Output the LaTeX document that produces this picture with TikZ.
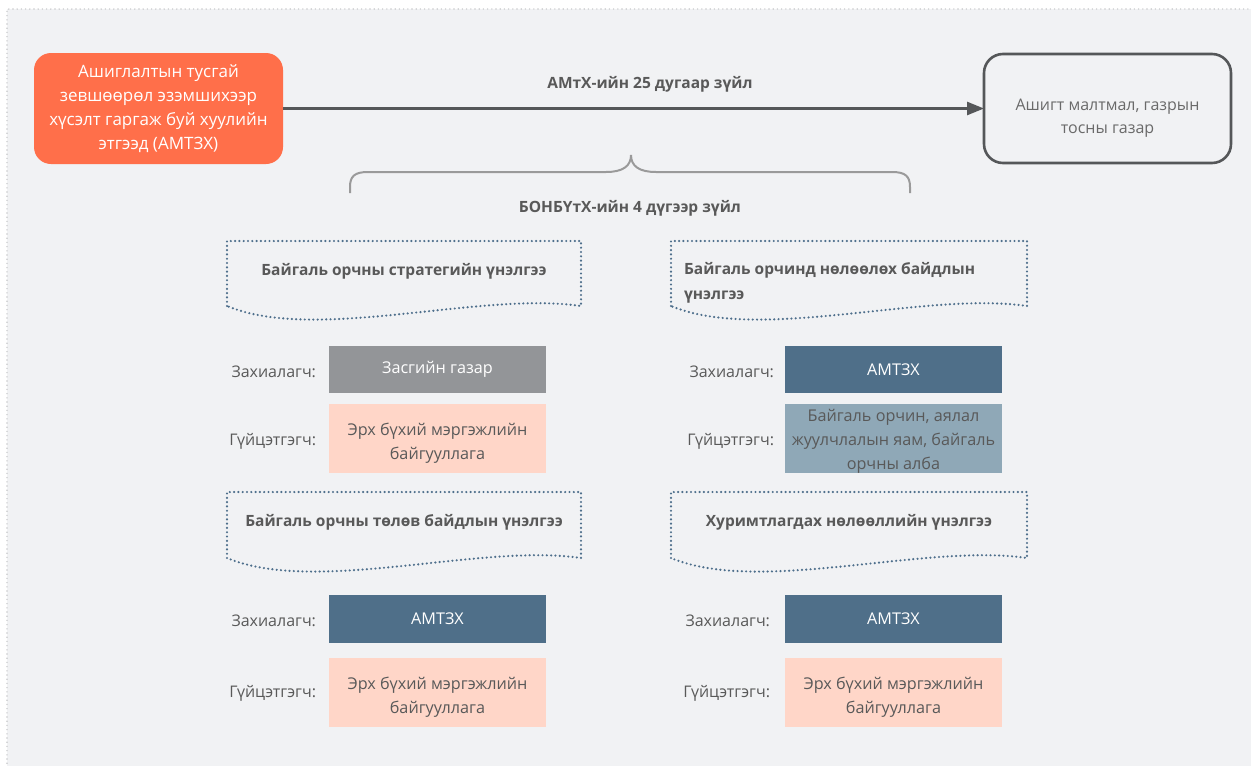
\documentclass[tikz,border=0pt]{standalone}
\usepackage{fontspec}
\setmainfont{Open Sans}
\usetikzlibrary{arrows.meta}
\definecolor{bgc}{HTML}{F1F2F4}
\definecolor{framec}{HTML}{C9CACC}
\definecolor{orangec}{HTML}{FF6F4A}
\definecolor{darkc}{HTML}{555759}
\definecolor{txtc}{HTML}{595959}
\definecolor{bracec}{HTML}{9A9A9A}
\definecolor{dotc}{HTML}{4E6F8C}
\definecolor{grayboxc}{HTML}{939598}
\definecolor{peachc}{HTML}{FFD6C8}
\definecolor{bluec}{HTML}{4F6F89}
\definecolor{lbluec}{HTML}{8FA8B7}
\begin{document}
\begin{tikzpicture}[x=1pt,y=-1pt,
  every node/.style={inner sep=0pt,outer sep=0pt},
  lbl/.style={font=\fontsize{16}{23}\selectfont,text=txtc,anchor=east},
  fbox/.style={minimum width=217pt},
  ftxt/.style={align=center,font=\fontsize{16.2}{24}\selectfont},
  ttl/.style={font=\bfseries\fontsize{15.5}{25}\selectfont,text=txtc},
  dotline/.style={draw=dotc,line width=2.4pt,line cap=round,dash pattern=on 0pt off 4.3pt},
  arr/.style={draw=darkc,line width=2.6pt,-{Triangle[length=17pt,width=13pt]}}
]
\useasboundingbox (0,0) rectangle (1251,766);
\fill[white] (0,0) rectangle (1251,766);
\fill[bgc] (7,9) rectangle (1251,766);
\draw[framec,line width=1.6pt,line cap=round,dash pattern=on 0pt off 4.2pt] (7,780) -- (7,9) -- (1265,9);

% top boxes
\node[fill=orangec,rounded corners=17pt,minimum width=249pt,minimum height=111pt,
  align=center,text=white,font=\fontsize{17}{24}\selectfont] (src) at (158.5,108.5)
  {Ашиглалтын тусгай\\зевшөөрөл эзэмшихээр\\хүсэлт гаргаж буй хуулийн\\этгээд (АМТЗХ)};
\node[draw=darkc,line width=2.6pt,fill=bgc,rounded corners=19pt,minimum width=247pt,minimum height=109pt] (dst) at (1107.5,108.5) {};
\node[align=center,text=txtc!90,font=\fontsize{16}{23}\selectfont] (dsttxt) at (1107.5,118)
  {Ашигт малтмал, газрын\\тосны газар};
\draw[arr] (src) -- (dst);
\node[font=\bfseries\fontsize{15.5}{18}\selectfont,text=txtc] (law25) at (650,84) {АМтХ-ийн 25 дугаар зүйл};

% brace
\draw[bracec,line width=2pt] (350,193) -- (350,187) .. controls (350,176) and (355,172) .. (368,172)
  -- (606,172) .. controls (623,172) and (631,166) .. (631,155)
  .. controls (631,166) and (639,172) .. (656,172) -- (892,172)
  .. controls (905,172) and (910,176) .. (910,187) -- (910,193);
\node[font=\bfseries\fontsize{15.5}{18}\selectfont,text=txtc] (law4) at (630,208) {БОНБҮтХ-ийн 4 дүгээр зүйл};

% document shapes
\draw[dotline] (227,306) -- (227,241) -- (581,241) -- (581,306)
  .. controls (480,291) and (316,343) .. cycle;
\draw[dotline] (671,306) -- (671,241) -- (1027,241) -- (1027,306)
  .. controls (925,291) and (760,343) .. cycle;
\draw[dotline] (227,558) -- (227,492) -- (581,492) -- (581,558)
  .. controls (480,543) and (316,595) .. cycle;
\draw[dotline] (671,558) -- (671,492) -- (1027,492) -- (1027,558)
  .. controls (925,543) and (760,595) .. cycle;

\node[ttl] (t1) at (404,271) {Байгаль орчны стратегийн үнэлгээ};
\node[ttl,align=left,anchor=north west] (t2) at (684,262) {Байгаль орчинд нөлөөлөх байдлын\\үнэлгээ};
\node[ttl] (t3) at (404,522) {Байгаль орчны төлөв байдлын үнэлгээ};
\node[ttl] (t4) at (849,522) {Хуримтлагдах нөлөөллийн үнэлгээ};

% rows left top
\node[lbl] (l1a) at (316,372) {Захиалагч:};
\node[lbl] (l1b) at (316,441) {Гүйцэтгэгч:};
\node[fbox,fill=grayboxc,minimum height=47pt] (b1a) at (437.5,369.5) {};
\node[ftxt,text=white] (b1at) at (437.5,369.5) {Засгийн газар};
\node[fbox,fill=peachc,minimum height=69pt] (b1b) at (437.5,438.5) {};
\node[ftxt,text=txtc] (b1bt) at (437.5,443) {Эрх бүхий мэргэжлийн\\байгууллага};

% rows right top
\node[lbl] (l2a) at (774,372) {Захиалагч:};
\node[lbl] (l2b) at (774,441) {Гүйцэтгэгч:};
\node[fbox,fill=bluec,minimum height=47pt] (b2a) at (893.5,369.5) {};
\node[ftxt,text=white] (b2at) at (893.5,369.5) {АМТЗХ};
\node[fbox,fill=lbluec,minimum height=69pt] (b2b) at (893.5,438.5) {};
\node[ftxt,text=txtc] (b2bt) at (893.5,441.5) {Байгаль орчин, аялал\\жуулчлалын яам, байгаль\\орчны алба};

% rows left bottom
\node[lbl] (l3a) at (316,621) {Захиалагч:};
\node[lbl] (l3b) at (316,693) {Гүйцэтгэгч:};
\node[fbox,fill=bluec,minimum height=48pt] (b3a) at (437.5,619) {};
\node[ftxt,text=white] (b3at) at (437.5,619) {АМТЗХ};
\node[fbox,fill=peachc,minimum height=69pt] (b3b) at (437.5,692.5) {};
\node[ftxt,text=txtc] (b3bt) at (437.5,697) {Эрх бүхий мэргэжлийн\\байгууллага};

% rows right bottom
\node[lbl] (l4a) at (770,621) {Захиалагч:};
\node[lbl] (l4b) at (770,693) {Гүйцэтгэгч:};
\node[fbox,fill=bluec,minimum height=48pt] (b4a) at (893.5,619) {};
\node[ftxt,text=white] (b4at) at (893.5,619) {АМТЗХ};
\node[fbox,fill=peachc,minimum height=69pt] (b4b) at (893.5,692.5) {};
\node[ftxt,text=txtc] (b4bt) at (893.5,697) {Эрх бүхий мэргэжлийн\\байгууллага};
\end{tikzpicture}
\end{document}
